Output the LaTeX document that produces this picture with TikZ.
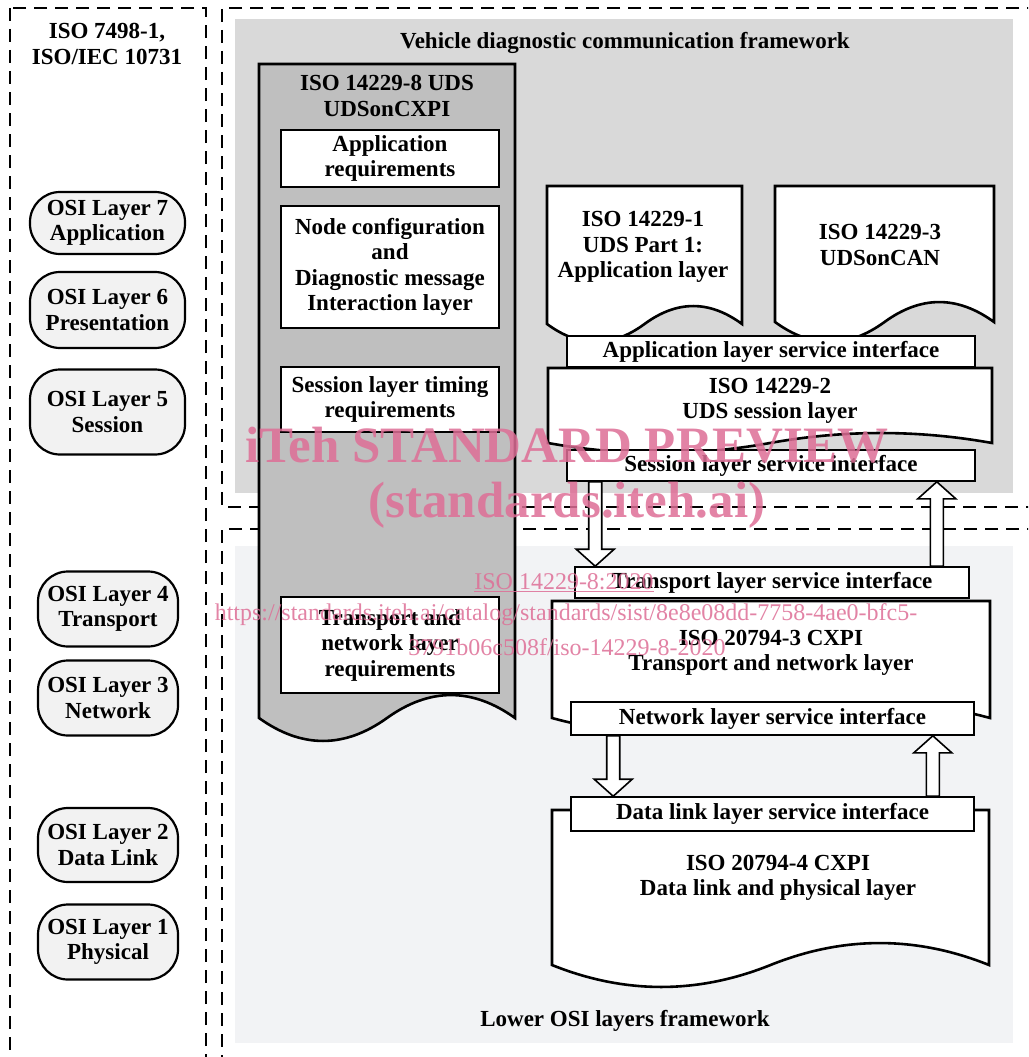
\documentclass[tikz,border=0pt]{standalone}
\usepackage{fontspec}
\setmainfont{Liberation Serif}
\usepackage{tikz}
\usetikzlibrary{calc}

\definecolor{upperbg}{HTML}{D9D9D9}
\definecolor{lowerbg}{HTML}{F2F3F5}
\definecolor{udsgray}{HTML}{BFBFBF}
\definecolor{osifill}{HTML}{F2F2F2}
\definecolor{wmpink}{HTML}{DE6E96}

% document shape: x1, top, x2, wave line, wave height, style
\newcommand{\docshape}[6]{%
  \draw[#6] (#1,#2) -- (#3,#2) -- (#3,#4)
    .. controls ({#3-(#3-#1)/6},{#4-1.33*#5}) and ({(#1+#3)/2+(#3-#1)/6},{#4-1.33*#5}) .. ({(#1+#3)/2},#4)
    .. controls ({(#1+#3)/2-(#3-#1)/6},{#4+1.33*#5}) and ({#1+(#3-#1)/6},{#4+1.33*#5}) .. (#1,#4) -- cycle;}
% block arrows between service interfaces
\newcommand{\fatdown}[2]{%
  \draw[fatarrow] let \p1=(#1), \p2=(#2.north) in
    ({\x1-6.5pt},\y1) -- ({\x1-6.5pt},{\y2+17pt}) -- ({\x1-19pt},{\y2+17pt}) -- (\x1,\y2)
    -- ({\x1+19pt},{\y2+17pt}) -- ({\x1+6.5pt},{\y2+17pt}) -- ({\x1+6.5pt},\y1) -- cycle;}
\newcommand{\fatup}[2]{%
  \draw[fatarrow] let \p1=(#1), \p2=(#2.south) in
    ({\x1-6.5pt},\y1) -- ({\x1-6.5pt},{\y2-17pt}) -- ({\x1-19pt},{\y2-17pt}) -- (\x1,\y2)
    -- ({\x1+19pt},{\y2-17pt}) -- ({\x1+6.5pt},{\y2-17pt}) -- ({\x1+6.5pt},\y1) -- cycle;}

\begin{document}
\begin{tikzpicture}[x=1pt,y=-1pt,
    lbl/.style={font=\fontsize{23}{25.5}\selectfont\bfseries, align=center, inner sep=0pt},
    box/.style={lbl, draw, fill=white, line width=1.5pt},
    intf/.style={box, line width=1.6pt},
    osi/.style={lbl, draw, fill=osifill, line width=2.2pt, rounded corners=30pt},
    frame/.style={dash pattern=on 13pt off 8pt, line width=1.6pt},
    docline/.style={draw=black, line width=2.6pt},
    fatarrow/.style={draw, fill=white, line width=1.6pt},
    wm/.style={text=wmpink, text opacity=0.85, inner sep=0pt}]
    \useasboundingbox (0,0) rectangle (1028,1057);
    \clip (0,0) rectangle (1028,1057);
    % backgrounds
    \fill[upperbg] (235,19) rectangle (1013,493);
    \fill[lowerbg] (235,546) rectangle (1013,1043);
    % frames
    \draw[frame] (10,8) rectangle (206,1080);
    \draw[frame] (1040,8) -- (222,8) -- (222,507) -- (1040,507);
    \draw[frame] (1040,529) -- (222,529) -- (222,1080);
    % titles
    \node[lbl] (osiref) at (107,44) {ISO 7498-1,\\ISO/IEC 10731};
    \node[lbl] (vdcf) at (625,43) {Vehicle diagnostic communication framework};
    \node[lbl] (lowfw) at (625,1021) {Lower OSI layers framework};
    % OSI layers
    \foreach \n/\cx/\cy/\w/\h/\txt in {
        7/107.5/223/155/62/{OSI Layer 7\\Application},
        6/107.5/310/155/76/{OSI Layer 6\\Presentation},
        5/107.5/412/155/85/{OSI Layer 5\\Session},
        4/108/609/140/75/{OSI Layer 4\\Transport},
        3/108/698/140/75/{OSI Layer 3\\Network},
        2/108/845/140/74/{OSI Layer 2\\Data Link},
        1/108/942/140/75/{OSI Layer 1\\Physical}} {
        \node[osi, minimum width=\w pt, minimum height=\h pt] (osi\n) at (\cx,\cy) {\txt};
    }
    % UDSonCXPI
    \docshape{259}{64}{515}{718}{23}{docline, fill=udsgray}
    \node[lbl] (uds) at (387,96) {ISO 14229-8 UDS\\UDSonCXPI};
    \node[box, minimum width=218pt, minimum height=57pt] (appreq) at (390,158.5) {Application\\requirements};
    \node[box, minimum width=218pt, minimum height=122pt] (nodecfg) at (390,267) {Node configuration\\and\\Diagnostic message\\Interaction layer};
    \node[box, minimum width=218pt, minimum height=65pt] (sesreq) at (390,399.5) {Session layer timing\\requirements};
    \node[box, minimum width=218pt, minimum height=96pt] (tpreq) at (390,645) {Transport and\\network layer\\requirements};
    % upper layers
    \docshape{547}{186}{742}{324}{18}{docline, fill=white}
    \node[lbl] (iso1) at (643,247) {ISO 14229-1\\UDS Part 1:\\Application layer};
    \docshape{775}{186}{994}{322}{20}{docline, fill=white}
    \node[lbl] (iso3) at (880,245) {ISO 14229-3\\UDSonCAN};
    \node[intf, minimum width=408pt, minimum height=31pt] (appif) at (771,351.5) {Application layer service interface};
    \docshape{548}{368}{992}{443}{10}{docline, fill=white}
    \node[lbl] (iso2) at (770,401) {ISO 14229-2\\UDS session layer};
    \node[intf, minimum width=408pt, minimum height=31pt] (sesif) at (771,465.5) {Session layer service interface};
    % lower layers
    \node[intf, minimum width=394pt, minimum height=31pt] (tpif) at (772,582.5) {Transport layer service interface};
    \docshape{552}{601}{990}{718}{15}{docline, fill=white}
    \node[lbl] (cxpi3) at (771,653) {ISO 20794-3 CXPI\\Transport and network layer};
    \node[intf, minimum width=403pt, minimum height=33pt] (nwif) at (772.5,718.5) {Network layer service interface};
    \docshape{552}{810}{989}{965}{22}{docline, fill=white}
    \node[intf, minimum width=403pt, minimum height=34pt] (dlif) at (772.5,814) {Data link layer service interface};
    \node[lbl] (cxpi4) at (778,878) {ISO 20794-4 CXPI\\Data link and physical layer};
    % arrows
    \fatdown{$(sesif.south west)+(29,0)$}{tpif}
    \fatup{$(tpif.north east)+(-33,0)$}{sesif}
    \fatdown{$(nwif.south west)+(43,0)$}{dlif}
    \fatup{$(dlif.north east)+(-42,0)$}{nwif}
    % watermark
    \node[wm, font=\fontsize{51}{55}\selectfont\bfseries] (wmtitle) at (567,445) {iTeh STANDARD PREVIEW};
    \node[wm, font=\fontsize{51}{55}\selectfont\bfseries] (wmsite) at (567,505) {(standards.iteh.ai)};
    \node[wm, font=\fontsize{24}{26}\selectfont] (wmiso) at (564,583) {\underline{ISO 14229-8:2020}};
    \node[wm, font=\fontsize{24}{26}\selectfont] (wmurl) at (566,615) {https://standards.iteh.ai/catalog/standards/sist/8e8e08dd-7758-4ae0-bfc5-};
    \node[wm, font=\fontsize{24}{26}\selectfont] (wmurlb) at (567,647) {3791b06c508f/iso-14229-8-2020};
\end{tikzpicture}
\end{document}
